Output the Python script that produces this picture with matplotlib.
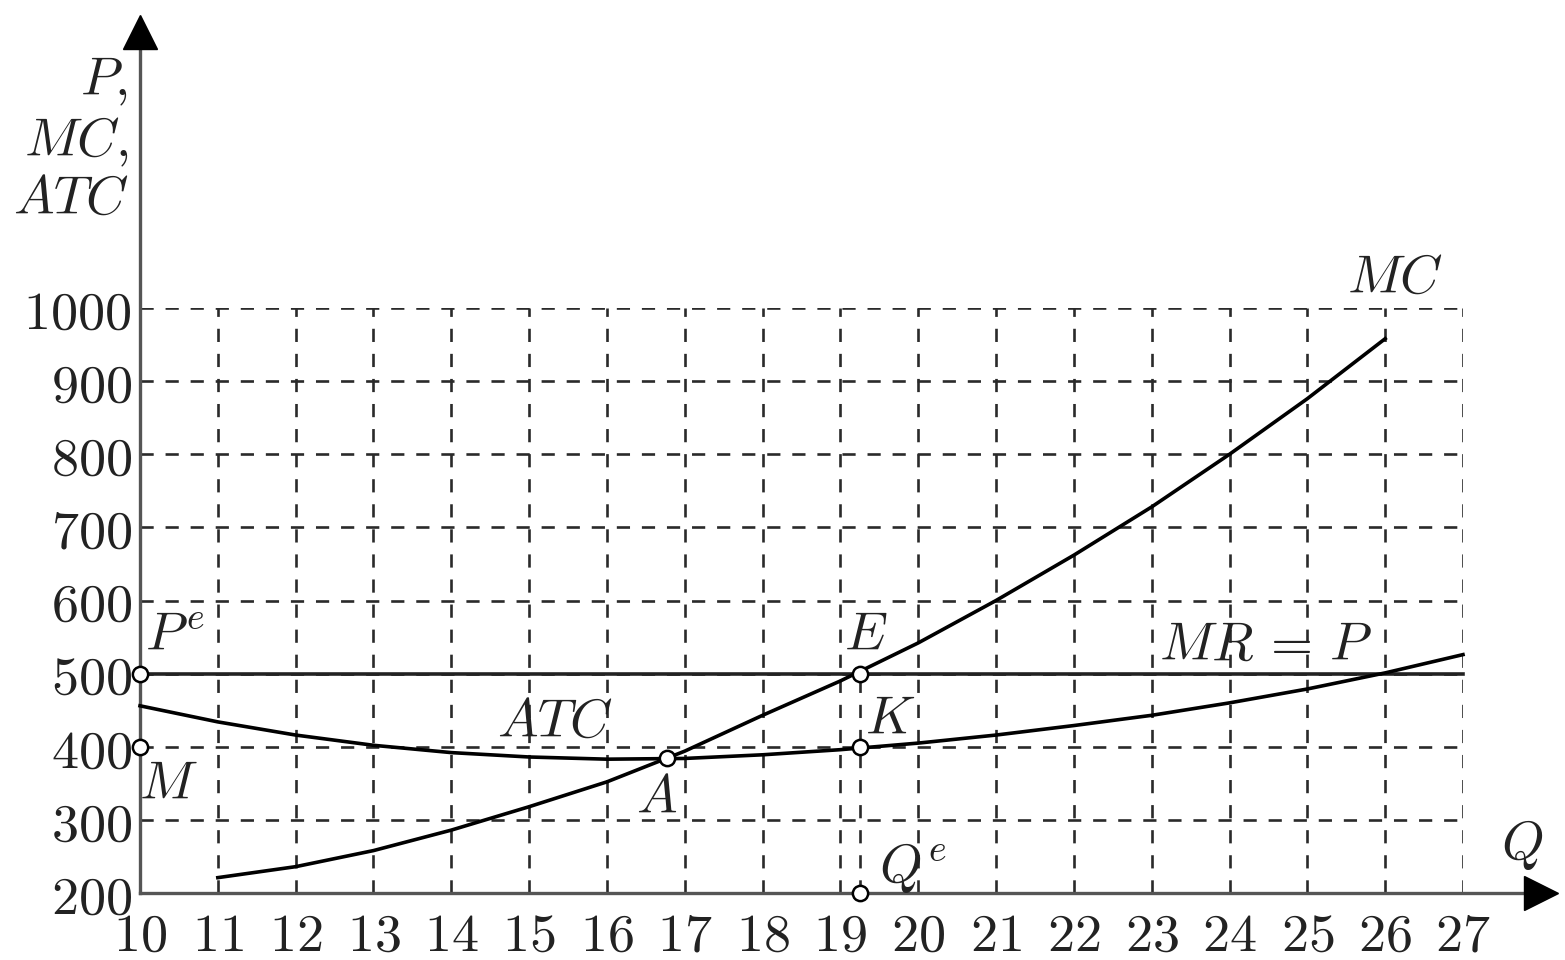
import matplotlib
matplotlib.use('Agg')
import matplotlib.pyplot as plt

plt.rcParams['mathtext.fontset'] = 'cm'

# valores
q_mc = [11, 12, 13, 14, 15, 16, 17, 18, 19, 20, 21, 22, 23, 24, 25, 26]
mc = [221, 236, 258, 286, 318, 352, 394, 443, 490, 542, 600, 662, 728, 800, 876, 958]

q_atc = [10, 11, 12, 13, 14, 15, 16, 17, 18, 19, 20, 21, 22, 23, 24, 25, 26, 27]
atc = [456, 434, 416, 402, 392, 386, 383, 384, 389, 396, 405, 416, 429, 443, 460, 479, 501, 526]

price = 500
q_e = 19.25
q_a, p_a = 16.77, 384
p_k = 400

x_ticks = list(range(10, 28))
y_ticks = [200, 300, 400, 500, 600, 700, 800, 900, 1000]

W, H = 1565, 960
fig = plt.figure(figsize=(W / 100, H / 100), dpi=100)
ax = fig.add_axes([140 / W, (H - 893) / H, (1463 - 140) / W, (893 - 308) / H])
ax.set_xlim(10, 27)
ax.set_ylim(200, 1000)
for s in ax.spines.values():
    s.set_visible(False)

grid_kw = dict(color='#2a2a2a', lw=1.9, dashes=(5, 4.5), zorder=1)
# rejilla punteada
for x in x_ticks[1:]:
    ax.plot([x, x], [200, 1000], **grid_kw)
for y in y_ticks[1:]:
    ax.plot([10, 27], [y, y], **grid_kw)
ax.plot([q_e, q_e], [200, price], **grid_kw)

# ejes con flechas
axis_col = '#555555'
ax.plot([10, 10], [200, 1365], color=axis_col, lw=2.4, clip_on=False, zorder=3)
ax.plot([10], [1378], marker='^', ms=24, color='black', clip_on=False, zorder=3)
ax.plot([10, 27.95], [200, 200], color=axis_col, lw=2.4, clip_on=False, zorder=3)
ax.plot([28.0], [200], marker='>', ms=24, color='black', clip_on=False, zorder=3)

# curvas
ax.plot([10, 27], [price, price], color='#222222', lw=2.6, zorder=4, clip_on=False)
ax.plot(q_mc, mc, color='black', lw=2.6, zorder=4, clip_on=False)
ax.plot(q_atc, atc, color='black', lw=2.6, zorder=4, clip_on=False)

# puntos
pts_x = [10, 10, q_a, q_e, q_e, q_e]
pts_y = [price, p_k, p_a, price, p_k, 200]
ax.plot(pts_x, pts_y, 'o', ms=11, mfc='white', mec='black', mew=1.8,
        zorder=6, clip_on=False)

ax.set_xticks(x_ticks)
ax.set_xticklabels([f'${v}$' for v in x_ticks])
ax.set_yticks(y_ticks)
ax.set_yticklabels([f'${v}$' for v in y_ticks])
ax.tick_params(length=0, labelsize=39, colors='#222222')
ax.tick_params(axis='x', pad=12)
ax.tick_params(axis='y', pad=6)

fs = 39
tk = dict(fontsize=fs, color='#222222', clip_on=False)
ax.text(9.85, 1309, '$P,$', ha='right', va='center', **tk)
ax.text(9.85, 1227, '$MC,$', ha='right', va='center', **tk)
ax.text(9.85, 1150, '$ATC$', ha='right', va='center', **tk)
ax.text(26.13, 1041, '$MC$', ha='center', va='center', **tk)
ax.text(24.46, 539, r'$MR\,=\,P$', ha='center', va='center', **tk)
ax.text(10.06, 553, '$P^e$', ha='left', va='center', **tk)
ax.text(10.36, 350, '$M$', ha='center', va='center', **tk)
ax.text(15.33, 434, '$ATC$', ha='center', va='center', **tk)
ax.text(16.64, 331, '$A$', ha='center', va='center', **tk)
ax.text(19.32, 553, '$E$', ha='center', va='center', **tk)
ax.text(19.64, 439, '$K$', ha='center', va='center', **tk)
ax.text(19.5, 234, '$Q^e$', ha='left', va='center', **tk)
ax.text(27.76, 266, '$Q$', ha='center', va='center', **tk)

fig.savefig('out.png', dpi=100, facecolor='white')
